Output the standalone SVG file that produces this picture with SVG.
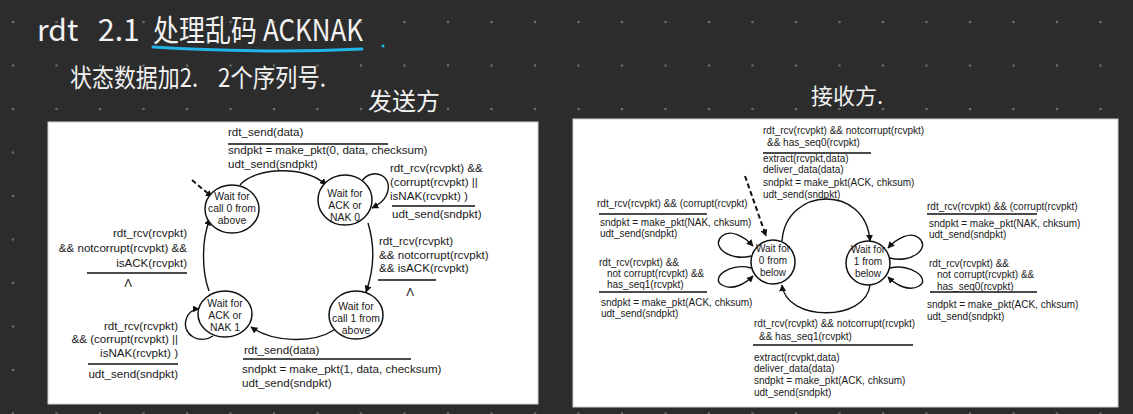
<svg xmlns="http://www.w3.org/2000/svg" width="1133" height="414" viewBox="0 0 1133 414">
<defs>
<pattern id="dots" x="-8.75" y="0.25" width="43.5" height="43.5" patternUnits="userSpaceOnUse">
<circle cx="21.75" cy="21.75" r="1.3" fill="#6e6e6e"/>
</pattern>
<marker id="ah" viewBox="0 0 10 10" refX="9" refY="5" markerWidth="7" markerHeight="7" markerUnits="userSpaceOnUse" orient="auto">
<path d="M0,0 L10,5 L0,10 Z" fill="#111"/>
</marker>
<style>
.hw{font-family:"Noto Sans CJK SC","Noto Sans",sans-serif;fill:#f2f2f2}
.t{font-family:"Liberation Sans",Arial,sans-serif;font-size:11.6px;fill:#1a1a1a}
.c{font-family:"Liberation Sans",Arial,sans-serif;font-size:10.4px;fill:#1a1a1a;text-anchor:middle}
.s{font-family:"Liberation Sans",Arial,sans-serif;font-size:10px;fill:#1a1a1a}
.st{fill:#fff;stroke:#111;stroke-width:1.5}
.e{fill:none;stroke:#111;stroke-width:1.4}
.d{fill:none;stroke:#111;stroke-width:2;stroke-dasharray:5 3}
.bar{stroke:#111;stroke-width:1.6}
.panel{fill:#fff;stroke:#d0d0d0;stroke-width:1}
</style>
</defs>
<rect x="0" y="0" width="1133" height="414" fill="#2c2c2c"/>
<rect x="0" y="0" width="1133" height="414" fill="url(#dots)"/>

<g id="notes">
<text class="hw" font-size="30" y="41"><tspan x="37">rdt</tspan><tspan x="98">2.1</tspan><tspan x="153" textLength="104" lengthAdjust="spacingAndGlyphs">处理乱码</tspan><tspan x="263" textLength="100" lengthAdjust="spacingAndGlyphs">ACKNAK</tspan></text>
<path d="M153 47 C 220 51, 300 52, 362 49" fill="none" stroke="#22b4e6" stroke-width="3" stroke-linecap="round"/>
<circle cx="383" cy="46" r="1.6" fill="#22b4e6"/>
<text class="hw" font-size="25" y="87"><tspan x="70" textLength="128" lengthAdjust="spacingAndGlyphs">状态数据加2.</tspan><tspan x="218" textLength="108" lengthAdjust="spacingAndGlyphs">2个序列号.</tspan></text>
<text class="hw" font-size="24" x="368" y="110">发送方</text>
<text class="hw" font-size="22" x="811" y="104">接收方.</text>
</g>

<rect class="panel" x="48" y="122" width="490" height="282"/>
<rect class="panel" x="573" y="119" width="545" height="288"/>

<g id="sender-connectors">
<path class="d" d="M192 180 L212 197" marker-end="url(#ah)"/>
<path class="e" d="M240 185 C 255 167, 306 165, 326 185" marker-end="url(#ah)"/>
<path class="e" d="M362 181 C 372 166, 396 176, 386 196 C 383 202, 378 205, 372 208" marker-end="url(#ah)"/>
<path class="e" d="M368 223 C 375 246, 374 270, 366 292" marker-end="url(#ah)"/>
<path class="e" d="M334 330 C 312 344, 272 342, 251 327" marker-end="url(#ah)"/>
<path class="e" d="M213 336 C 200 345, 182 335, 186 320 C 188 312, 194 309, 199 309" marker-end="url(#ah)"/>
<path class="e" d="M209 291 C 202 272, 201 240, 210 219" marker-end="url(#ah)"/>
<line class="bar" x1="228" y1="144" x2="388" y2="144"/>
<line class="bar" x1="392" y1="206" x2="475" y2="206"/>
<line class="bar" x1="378" y1="280" x2="436" y2="280"/>
<line class="bar" x1="87" y1="273" x2="187" y2="273"/>
<line class="bar" x1="88" y1="364" x2="178" y2="364"/>
<line class="bar" x1="243" y1="359" x2="411" y2="359"/>
</g>

<g id="sender-labels">
<text class="t" x="228" y="136">rdt_send(data)</text>
<text class="t" x="228" y="154">sndpkt = make_pkt(0, data, checksum)</text>
<text class="t" x="228" y="168">udt_send(sndpkt)</text>
<text class="t" x="390" y="172">rdt_rcv(rcvpkt) &amp;&amp;</text>
<text class="t" x="390" y="186">(corrupt(rcvpkt) ||</text>
<text class="t" x="390" y="200">isNAK(rcvpkt) )</text>
<text class="t" x="392" y="218">udt_send(sndpkt)</text>
<text class="t" x="379" y="245">rdt_rcv(rcvpkt)</text>
<text class="t" x="379" y="259">&amp;&amp; notcorrupt(rcvpkt)</text>
<text class="t" x="379" y="272">&amp;&amp; isACK(rcvpkt)</text>
<text class="t" x="410" y="296" text-anchor="middle" font-family="Liberation Serif">Λ</text>
<g text-anchor="end">
<text class="t" x="187" y="237">rdt_rcv(rcvpkt)</text>
<text class="t" x="187" y="252">&amp;&amp; notcorrupt(rcvpkt) &amp;&amp;</text>
<text class="t" x="187" y="267">isACK(rcvpkt)</text>
<text class="t" x="178" y="330">rdt_rcv(rcvpkt)</text>
<text class="t" x="178" y="343">&amp;&amp; (corrupt(rcvpkt) ||</text>
<text class="t" x="178" y="357">isNAK(rcvpkt) )</text>
<text class="t" x="178" y="378">udt_send(sndpkt)</text>
</g>
<text class="t" x="128" y="287" text-anchor="middle" font-family="Liberation Serif">Λ</text>
<text class="t" x="244" y="354">rdt_send(data)</text>
<text class="t" x="242" y="373">sndpkt = make_pkt(1, data, checksum)</text>
<text class="t" x="242" y="387">udt_send(sndpkt)</text>
</g>

<g id="s-wait-call0">
<ellipse class="st" cx="232" cy="209" rx="27" ry="24"/>
<text class="c" x="232" y="200">Wait for</text>
<text class="c" x="232" y="212">call 0 from</text>
<text class="c" x="232" y="224">above</text>
</g>
<g id="s-wait-ack0">
<ellipse class="st" cx="345" cy="200" rx="27" ry="25"/>
<text class="c" x="345" y="197">Wait for</text>
<text class="c" x="345" y="209">ACK or</text>
<text class="c" x="345" y="221">NAK 0</text>
</g>
<g id="s-wait-ack1">
<ellipse class="st" cx="225" cy="314" rx="27" ry="23"/>
<text class="c" x="225" y="307">Wait for</text>
<text class="c" x="225" y="319">ACK or</text>
<text class="c" x="225" y="331">NAK 1</text>
</g>
<g id="s-wait-call1">
<ellipse class="st" cx="356" cy="315" rx="27" ry="24"/>
<text class="c" x="356" y="310">Wait for</text>
<text class="c" x="356" y="322">call 1 from</text>
<text class="c" x="356" y="334">above</text>
</g>

<g id="receiver-connectors">
<path class="d" d="M745 176 L766 236" marker-end="url(#ah)"/>
<path class="e" d="M782 241 C 786 186, 866 184, 870 241" marker-end="url(#ah)"/>
<path class="e" d="M870 285 C 866 322, 786 322, 782 285" marker-end="url(#ah)"/>
<path class="e" d="M751 256 C 730 262, 710 246, 722 236 C 730 229, 744 236, 753 246" marker-end="url(#ah)"/>
<path class="e" d="M751 268 C 730 262, 710 278, 722 285 C 732 291, 745 284, 753 276" marker-end="url(#ah)"/>
<path class="e" d="M890 258 C 911 264, 931 248, 919 238 C 911 231, 897 238, 888 248" marker-end="url(#ah)"/>
<path class="e" d="M890 268 C 911 263, 931 279, 919 286 C 909 292, 896 285, 888 277" marker-end="url(#ah)"/>
<line class="bar" x1="763" y1="153" x2="871" y2="153"/>
<line class="bar" x1="599" y1="214" x2="707" y2="214"/>
<line class="bar" x1="599" y1="292" x2="707" y2="292"/>
<line class="bar" x1="753" y1="345" x2="913" y2="345"/>
<line class="bar" x1="927" y1="214" x2="1037" y2="214"/>
<line class="bar" x1="930" y1="292" x2="1037" y2="292"/>
</g>

<g id="receiver-labels">
<text class="s" x="763" y="134">rdt_rcv(rcvpkt) &amp;&amp; notcorrupt(rcvpkt)</text>
<text class="s" x="767" y="146">&amp;&amp; has_seq0(rcvpkt)</text>
<text class="s" x="763" y="162">extract(rcvpkt,data)</text>
<text class="s" x="763" y="173">deliver_data(data)</text>
<text class="s" x="763" y="186">sndpkt = make_pkt(ACK, chksum)</text>
<text class="s" x="763" y="198">udt_send(sndpkt)</text>
<text class="s" x="597" y="207">rdt_rcv(rcvpkt) &amp;&amp; (corrupt(rcvpkt)</text>
<text class="s" x="600" y="226">sndpkt = make_pkt(NAK, chksum)</text>
<text class="s" x="600" y="237">udt_send(sndpkt)</text>
<text class="s" x="599" y="266">rdt_rcv(rcvpkt) &amp;&amp;</text>
<text class="s" x="607" y="277">not corrupt(rcvpkt) &amp;&amp;</text>
<text class="s" x="607" y="288">has_seq1(rcvpkt)</text>
<text class="s" x="601" y="306">sndpkt = make_pkt(ACK, chksum)</text>
<text class="s" x="601" y="317">udt_send(sndpkt)</text>
<text class="s" x="754" y="327">rdt_rcv(rcvpkt) &amp;&amp; notcorrupt(rcvpkt)</text>
<text class="s" x="759" y="340">&amp;&amp; has_seq1(rcvpkt)</text>
<text class="s" x="754" y="361">extract(rcvpkt,data)</text>
<text class="s" x="754" y="372">deliver_data(data)</text>
<text class="s" x="754" y="384">sndpkt = make_pkt(ACK, chksum)</text>
<text class="s" x="754" y="396">udt_send(sndpkt)</text>
<text class="s" x="927" y="210">rdt_rcv(rcvpkt) &amp;&amp; (corrupt(rcvpkt)</text>
<text class="s" x="929" y="227">sndpkt = make_pkt(NAK, chksum)</text>
<text class="s" x="929" y="238">udt_send(sndpkt)</text>
<text class="s" x="929" y="267">rdt_rcv(rcvpkt) &amp;&amp;</text>
<text class="s" x="937" y="278">not corrupt(rcvpkt) &amp;&amp;</text>
<text class="s" x="937" y="290">has_seq0(rcvpkt)</text>
<text class="s" x="927" y="308">sndpkt = make_pkt(ACK, chksum)</text>
<text class="s" x="927" y="320">udt_send(sndpkt)</text>
</g>

<g id="r-wait-0">
<circle class="st" cx="773" cy="262" r="22"/>
<text class="s" x="773" y="252" text-anchor="middle">Wait for</text>
<text class="s" x="773" y="264" text-anchor="middle">0 from</text>
<text class="s" x="773" y="276" text-anchor="middle">below</text>
</g>
<g id="r-wait-1">
<circle class="st" cx="868" cy="263" r="22"/>
<text class="s" x="868" y="253" text-anchor="middle">Wait for</text>
<text class="s" x="868" y="265" text-anchor="middle">1 from</text>
<text class="s" x="868" y="277" text-anchor="middle">below</text>
</g>
</svg>
